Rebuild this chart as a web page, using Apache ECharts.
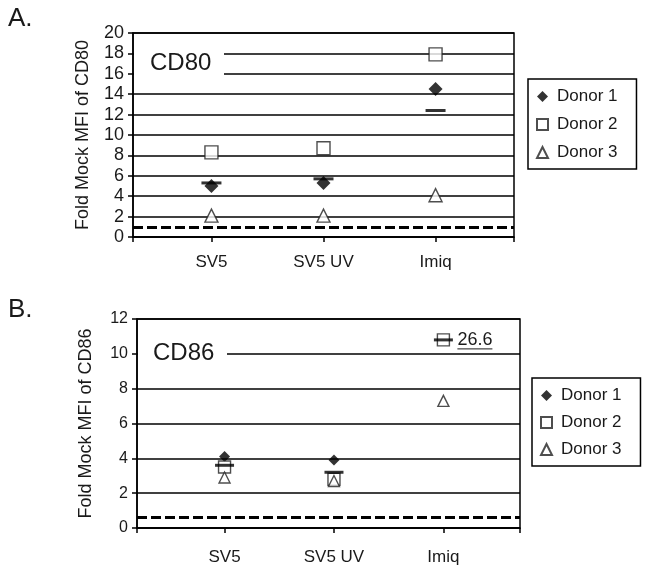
<!DOCTYPE html>
<html>
<head>
<meta charset="utf-8">
<script src="https://cdn.jsdelivr.net/npm/echarts@6/dist/echarts.min.js"></script>
<style>
html,body{margin:0;padding:0;background:#fff;}
#chart{width:653px;height:574px;}
</style>
</head>
<body>
<div id="chart"></div>
<script>
const categories = ['SV5', 'SV5 UV', 'Imiq'];
const donorNames = ['Donor 1', 'Donor 2', 'Donor 3'];

// Panel A: CD80
const cd80Donor1 = [5.0, 5.3, 14.5];
const cd80Donor2 = [8.3, 8.7, 17.9];
const cd80Donor3 = [2.1, 2.1, 4.1];
const cd80Mean   = [5.3, 5.7, 12.4];
const cd80Baseline = 1;

// Panel B: CD86
const cd86Donor1 = [4.1, 3.9, null];
const cd86Donor2 = [3.5, 2.8, 10.8];
const cd86Donor3 = [2.9, 2.7, 7.3];
const cd86Mean   = [3.6, 3.2, 10.8];
const cd86Baseline = 0.6;
const cd86OffScaleLabel = '26.6';

const FONT = '"Liberation Sans", Arial, sans-serif';
const TXT = '#1a1a1a';

function pts(arr) {
  return categories.map((c, i) => [i + 1, arr[i]]).filter(p => p[1] != null);
}

const chart = echarts.init(document.getElementById('chart'), null, {renderer: 'canvas'});

function xAxisFor(gridIndex, min, max) {
  return {
    type: 'value', gridIndex, min, max,
    splitLine: {show: false},
    axisLine: {show: true, lineStyle: {color: '#000', width: 1.5}},
    axisTick: {show: true, customValues: [min, 1, 2, 3, max], length: 5, inside: false,
               lineStyle: {color: '#000', width: 1.5}},
    axisLabel: {customValues: [1, 2, 3], formatter: v => categories[Math.round(v) - 1] || '',
                fontFamily: FONT, fontSize: 17, color: TXT, margin: gridIndex === 0 ? 17 : 21}
  };
}

function yAxisFor(gridIndex, max, name, labelSize) {
  return {
    type: 'value', gridIndex, min: 0, max, interval: 2,
    name, nameLocation: 'middle', nameGap: gridIndex === 0 ? 41 : 42,
    nameTextStyle: {fontFamily: FONT, fontSize: 18, color: TXT},
    axisLine: {show: true, lineStyle: {color: '#000', width: 1.5}},
    axisTick: {show: true, length: 5, lineStyle: {color: '#000', width: 1.5}},
    axisLabel: {fontFamily: FONT, fontSize: labelSize, color: TXT, margin: 9},
    splitLine: {show: true, lineStyle: {color: '#000', width: 1.5}}
  };
}

function donorSeries(name, idx, arr, symbol, size, filled) {
  return {
    name, type: 'scatter', xAxisIndex: idx, yAxisIndex: idx,
    data: pts(arr), symbol, symbolSize: size, z: 5,
    itemStyle: filled ? {color: '#000', borderColor: '#000', borderWidth: 0}
                      : {color: '#fff', borderColor: '#222', borderWidth: 1.4}
  };
}

function meanSeries(idx, arr, size, baseline) {
  return {
    name: 'Mean', type: 'scatter', xAxisIndex: idx, yAxisIndex: idx,
    data: pts(arr), symbol: 'rect', symbolSize: size, z: 6,
    itemStyle: {color: '#000'},
    markLine: {
      silent: true, symbol: ['none', 'none'], label: {show: false},
      lineStyle: {color: '#000', width: 3, type: [10, 4]},
      data: [{yAxis: baseline}]
    }
  };
}

function legendFor(left, top, gap) {
  return {
    orient: 'vertical', left, top,
    data: donorNames,
    backgroundColor: '#fff', borderColor: '#000', borderWidth: 1.5,
    padding: [9, 19, 8, 8], itemGap: gap, itemWidth: 11, itemHeight: 11,
    textStyle: {fontFamily: FONT, fontSize: 17, color: TXT, padding: [0, 0, 0, 4]},
    selectedMode: false
  };
}

const option = {
  animation: false,
  backgroundColor: '#fff',
  grid: [
    {left: 133, top: 33, width: 381, height: 204, show: true, borderColor: '#000', borderWidth: 1.5, containLabel: false},
    {left: 137, top: 319, width: 383, height: 209, show: true, borderColor: '#000', borderWidth: 1.5, containLabel: false}
  ],
  xAxis: [xAxisFor(0, 0.3, 3.7), xAxisFor(1, 0.2, 3.7)],
  yAxis: [yAxisFor(0, 20, 'Fold Mock MFI of CD80', 18), yAxisFor(1, 12, 'Fold Mock MFI of CD86', 16)],
  legend: [legendFor(528, 79, 11), legendFor(532, 378, 10)],
  series: [
    donorSeries('Donor 1', 0, cd80Donor1, 'diamond', 14, true),
    donorSeries('Donor 2', 0, cd80Donor2, 'rect', 13, false),
    donorSeries('Donor 3', 0, cd80Donor3, 'triangle', 13, false),
    meanSeries(0, cd80Mean, [20, 3], cd80Baseline),
    donorSeries('Donor 1', 1, cd86Donor1, 'diamond', 11, true),
    donorSeries('Donor 2', 1, cd86Donor2, 'rect', 12, false),
    donorSeries('Donor 3', 1, cd86Donor3, 'triangle', 11, false),
    meanSeries(1, cd86Mean, [19, 3], cd86Baseline)
  ]
};
chart.setOption(option);

// Annotation positions derived from the library's scales
const offPt = chart.convertToPixel({gridIndex: 1}, [3, cd86Donor2[2]]);
const labelX = offPt[0] + 14;
const labelW = 35;

chart.setOption({
  graphic: [
    {type: 'text', left: 8, top: 6, style: {text: 'A.', font: '26px ' + FONT, fill: TXT}},
    {type: 'text', left: 8, top: 297, style: {text: 'B.', font: '26px ' + FONT, fill: TXT}},
    {type: 'rect', shape: {x: 134, y: 47, width: 90, height: 32}, style: {fill: '#fff'}, z: 50},
    {type: 'text', x: 150, y: 63, style: {text: 'CD80', font: '24px ' + FONT, fill: TXT, verticalAlign: 'middle'}, z: 51},
    {type: 'rect', shape: {x: 138, y: 340, width: 89, height: 28}, style: {fill: '#fff'}, z: 50},
    {type: 'text', x: 153, y: 353, style: {text: 'CD86', font: '24px ' + FONT, fill: TXT, verticalAlign: 'middle'}, z: 51},
    {type: 'text', x: labelX, y: offPt[1], style: {text: cd86OffScaleLabel, font: '18px ' + FONT, fill: TXT, verticalAlign: 'middle'}, z: 51},
    {type: 'line', shape: {x1: labelX, y1: offPt[1] + 9, x2: labelX + labelW, y2: offPt[1] + 9}, style: {stroke: TXT, lineWidth: 1}, z: 51}
  ]
});
</script>
</body>
</html>
